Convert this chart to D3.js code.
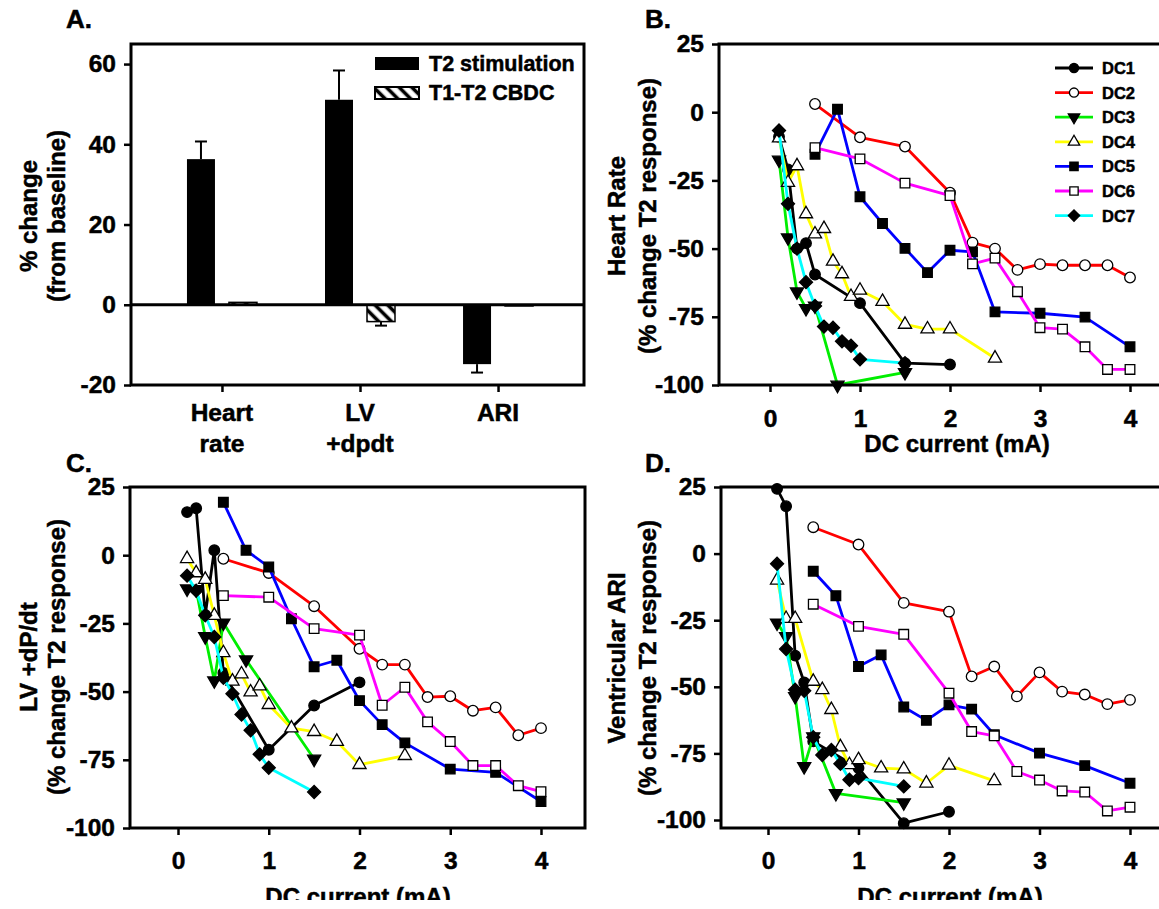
<!DOCTYPE html>
<html><head><meta charset="utf-8">
<script src="https://cdn.jsdelivr.net/npm/d3@7"></script>
<style>
body{margin:0;background:#fff}
svg{display:block}
text{font-family:"Liberation Sans",Arial,sans-serif;font-weight:bold;fill:#000;stroke:#000;stroke-width:0.5px}
</style>
</head><body>
<svg id="chart" width="1159" height="909"></svg>
<script>
// ---------------- DATA ----------------
// Panel A
const categoriesA = ["Heart rate", "LV +dpdt", "ARI"];
const categoryLinesA = [["Heart", "rate"], ["LV", "+dpdt"], ["ARI"]];
const seriesA = ["T2 stimulation", "T1-T2 CBDC"];
const t2Mean = [36.3, 51.1, -14.8];
const t2Err = [4.4, 7.3, 2.1];
const cbdcMean = [0.6, -4.2, -0.3];
const cbdcErr = [0, 1.0, 0];
const ticksA = [-20, 0, 20, 40, 60];

// Panels B-D
const seriesNames = ["DC1", "DC2", "DC3", "DC4", "DC5", "DC6", "DC7"];
const seriesColors = ["#000000", "#ff0000", "#00ee00", "#ffff00", "#0000ff", "#ff00ff", "#00ffff"];
const seriesSymbols = ["circle", "circleOpen", "triDown", "triUpOpen", "square", "squareOpen", "diamond"];
const currentTicks = [0, 1, 2, 3, 4];
const responseTicks = [-100, -75, -50, -25, 0, 25];

// B: Heart Rate (% change T2 response) vs DC current (mA)
const hrDC1 = [[0.1,-9],[0.2,-21],[0.3,-50],[0.4,-48],[0.5,-59.5],[1.0,-70],[1.5,-92],[2.0,-92.5]];
const hrDC2 = [[0.5,3],[1.0,-9.2],[1.5,-12.6],[2.0,-29.5],[2.25,-47.8],[2.5,-50],[2.75,-57.8],[3.0,-55.7],[3.25,-56.1],[3.5,-56.1],[3.75,-56.1],[4.0,-60.6]];
const hrDC3 = [[0.1,-17.5],[0.2,-46],[0.3,-65.8],[0.4,-71.9],[0.5,-71],[0.75,-100],[1.5,-95.4]];
const hrDC4 = [[0.1,-9.5],[0.2,-25.8],[0.3,-19.7],[0.4,-37.3],[0.5,-44.7],[0.6,-42.7],[0.7,-54.7],[0.8,-59.3],[0.9,-67.6],[1.0,-65.3],[1.25,-69.4],[1.5,-77.8],[1.75,-79.5],[2.0,-79.5],[2.5,-90.2]];
const hrDC5 = [[0.5,-15.4],[0.75,1.1],[1.0,-31],[1.25,-40.8],[1.5,-49.9],[1.75,-58.8],[2.0,-50.6],[2.25,-51.2],[2.5,-73.2],[3.0,-73.7],[3.5,-75.1],[4.0,-86]];
const hrDC6 = [[0.5,-13],[1.0,-17.1],[1.5,-26],[2.0,-30.6],[2.25,-55.6],[2.5,-53.5],[2.75,-65.8],[3.0,-79],[3.25,-79.5],[3.5,-86],[3.75,-94.3],[4.0,-94.3]];
const hrDC7 = [[0.1,-6.7],[0.2,-33.6],[0.3,-50],[0.4,-62.3],[0.5,-71],[0.6,-78.6],[0.7,-79],[0.8,-84],[0.9,-85.6],[1.0,-90.6],[1.5,-92]];

// C: LV +dP/dt
const lvDC1 = [[0.1,15.8],[0.2,17.2],[0.3,-21.9],[0.4,1.8],[0.5,-43.2],[1.0,-71.3],[1.5,-55.1],[2.0,-46.6]];
const lvDC2 = [[0.5,-1.3],[1.0,-6.5],[1.5,-18.7],[2.0,-34.3],[2.25,-40.1],[2.5,-40.1],[2.75,-52],[3.0,-51.7],[3.25,-57],[3.5,-55.8],[3.75,-66],[4.0,-63.4]];
const lvDC3 = [[0.1,-12.3],[0.2,-12.6],[0.3,-29.8],[0.4,-46],[0.5,-24.8],[0.75,-38.3],[1.5,-74.7]];
const lvDC4 = [[0.1,-1.3],[0.2,-6.5],[0.3,-8.9],[0.4,-22.1],[0.5,-35.8],[0.6,-46.2],[0.7,-43.6],[0.8,-50.2],[0.9,-48],[1.0,-54.8],[1.25,-63.4],[1.5,-64.7],[1.75,-68.3],[2.0,-76.8],[2.5,-73.5]];
const lvDC5 = [[0.5,19.4],[0.75,1.8],[1.0,-4.3],[1.25,-23.3],[1.5,-40.9],[1.75,-38.5],[2.0,-53.3],[2.25,-62.1],[2.5,-68.8],[3.0,-78.4],[3.5,-79.6],[4.0,-90.3]];
const lvDC6 = [[0.5,-14.8],[1.0,-15.4],[1.5,-26.9],[2.0,-29.3],[2.25,-55],[2.5,-48.4],[2.75,-61.1],[3.0,-68.3],[3.25,-77.1],[3.5,-77.1],[3.75,-84.5],[4.0,-86.7]];
const lvDC7 = [[0.1,-7.5],[0.2,-13],[0.3,-22],[0.4,-30],[0.5,-44.9],[0.6,-50.8],[0.7,-58.4],[0.8,-64.2],[0.9,-73],[1.0,-77.9],[1.5,-86.8]];

// D: Ventricular ARI
const ariDC1 = [[0.1,24.3],[0.2,17.8],[0.3,-38.3],[0.4,-48.4],[0.5,-70.5],[1.0,-80.5],[1.5,-101.2],[2.0,-96.9]];
const ariDC2 = [[0.5,9.9],[1.0,3.4],[1.5,-18.5],[2.0,-21.8],[2.25,-46.1],[2.5,-42.4],[2.75,-53.6],[3.0,-44.6],[3.25,-51.8],[3.5,-52.9],[3.75,-56.5],[4.0,-54.9]];
const ariDC3 = [[0.1,-26],[0.2,-31.1],[0.3,-53.6],[0.4,-79.9],[0.5,-68.7],[0.75,-90],[1.5,-93.5]];
const ariDC4 = [[0.1,-10],[0.2,-24.4],[0.3,-24.4],[0.5,-48],[0.6,-51.1],[0.7,-58.6],[0.8,-72.6],[0.9,-79.3],[1.0,-77.4],[1.25,-80.5],[1.5,-80.9],[1.75,-86.2],[2.0,-79.5],[2.5,-85.3]];
const ariDC5 = [[0.5,-6.6],[0.75,-15.8],[1.0,-42.4],[1.25,-38],[1.5,-57.6],[1.75,-62.6],[2.0,-56.8],[2.25,-58.4],[2.5,-68],[3.0,-74.9],[3.5,-79.6],[4.0,-86.2]];
const ariDC6 = [[0.5,-19],[1.0,-27.3],[1.5,-30.3],[2.0,-52.4],[2.25,-66.8],[2.5,-68.4],[2.75,-81.8],[3.0,-85],[3.25,-89.1],[3.5,-89.5],[3.75,-96.6],[4.0,-95.2]];
const ariDC7 = [[0.1,-3.8],[0.2,-35.8],[0.3,-51.1],[0.4,-51.5],[0.5,-68.9],[0.6,-75.6],[0.7,-73.7],[0.8,-78.9],[0.9,-84.9],[1.0,-84.3],[1.5,-87.4]];

const hrSeries = [hrDC1, hrDC2, hrDC3, hrDC4, hrDC5, hrDC6, hrDC7];
const lvSeries = [lvDC1, lvDC2, lvDC3, lvDC4, lvDC5, lvDC6, lvDC7];
const ariSeries = [ariDC1, ariDC2, ariDC3, ariDC4, ariDC5, ariDC6, ariDC7];

// ---------------- DRAWING ----------------
const svg = d3.select("#chart");
svg.append("rect").attr("width", 1159).attr("height", 909).attr("fill", "#fff");

const defs = svg.append("defs");
const pat = defs.append("pattern").attr("id", "hatch")
  .attr("patternUnits", "userSpaceOnUse").attr("width", 9).attr("height", 9)
  .attr("patternTransform", "rotate(-45)");
pat.append("rect").attr("width", 9).attr("height", 9).attr("fill", "#fff");
pat.append("line").attr("x1", 4.5).attr("y1", 0).attr("x2", 4.5).attr("y2", 9)
  .attr("stroke", "#000").attr("stroke-width", 3.6);

const TICK_FONT = 24.5;
const LW = 3;
const FONT = '"Liberation Sans", Arial, sans-serif';
const numFmt = d => (d < 0 ? "-" + Math.abs(d) : String(d));

function styleAxis(g) {
  g.select(".domain").remove();
  g.selectAll(".tick line").attr("stroke", "#000").attr("stroke-width", 2.5);
  g.selectAll(".tick text").attr("font-size", TICK_FONT)
    .attr("font-family", FONT).attr("font-weight", "bold").attr("fill", "#000")
    .attr("stroke", "#000").attr("stroke-width", 0.5);
}

function drawBox(g, l, t, r, b) {
  g.append("rect").attr("x", l).attr("y", t).attr("width", r - l).attr("height", b - t)
    .attr("fill", "none").attr("stroke", "#000").attr("stroke-width", LW);
}

function rotTitle(x, y, txt, size) {
  svg.append("text").attr("transform", `translate(${x},${y}) rotate(-90)`)
    .attr("text-anchor", "middle").attr("dominant-baseline", "central")
    .attr("font-size", size).text(txt);
}

function panelLetter(x, y, txt) {
  svg.append("text").attr("x", x).attr("y", y).attr("font-size", 26).text(txt);
}

function symbolPath(kind, scale) {
  const s = scale || 1;
  switch (kind) {
    case "circle": case "circleOpen": return d3.symbol(d3.symbolCircle, 88 * s)();
    case "triDown": case "triUpOpen": return d3.symbol(d3.symbolTriangle, 75 * s)();
    case "square": case "squareOpen": return d3.symbol(d3.symbolSquare, 92 * s)();
    case "diamond": return d3.symbol(d3.symbolSquare, 85 * s)();
  }
}
function symbolRot(kind) {
  if (kind === "triDown") return 180;
  if (kind === "diamond") return 45;
  return 0;
}
function symbolFill(kind) {
  return kind.endsWith("Open") ? "#fff" : "#000";
}

function drawMarker(g, kind, cx, cy, scale) {
  g.append("path").attr("d", symbolPath(kind, scale))
    .attr("transform", `translate(${cx},${cy}) rotate(${symbolRot(kind)})`)
    .attr("fill", symbolFill(kind)).attr("stroke", "#000").attr("stroke-width", 1.3);
}

// ---------- Panel A ----------
(function () {
  const L = 131, R = 584, T = 44, B = 385;
  const g = svg.append("g");
  const y = d3.scaleLinear().domain([-20, 65]).range([B, T]);
  const x = d3.scalePoint().domain(categoriesA).range([135, 585]).padding(0.63);
  const xs = d3.scaleBand().domain(seriesA).range([-35, 35]).paddingInner(1 / 3);

  categoriesA.forEach((c, i) => {
    const cx = x(c);
    const v = t2Mean[i];
    g.append("rect").attr("x", cx + xs(seriesA[0])).attr("width", xs.bandwidth())
      .attr("y", y(Math.max(0, v))).attr("height", Math.abs(y(v) - y(0)))
      .attr("fill", "#000");
    const bx = cx + xs(seriesA[0]) + xs.bandwidth() / 2;
    const ev = v + Math.sign(v) * t2Err[i];
    g.append("line").attr("x1", bx).attr("x2", bx).attr("y1", y(v)).attr("y2", y(ev)).attr("stroke", "#000").attr("stroke-width", 2);
    g.append("line").attr("x1", bx - 6).attr("x2", bx + 6).attr("y1", y(ev)).attr("y2", y(ev)).attr("stroke", "#000").attr("stroke-width", 2);
    const w = cbdcMean[i];
    g.append("rect").attr("x", cx + xs(seriesA[1])).attr("width", xs.bandwidth())
      .attr("y", y(Math.max(0, w))).attr("height", Math.abs(y(w) - y(0)))
      .attr("fill", "url(#hatch)").attr("stroke", "#000").attr("stroke-width", 1.5);
    if (cbdcErr[i] > 0) {
      const bx2 = cx + xs(seriesA[1]) + xs.bandwidth() / 2;
      const ew = w + Math.sign(w) * cbdcErr[i];
      g.append("line").attr("x1", bx2).attr("x2", bx2).attr("y1", y(w)).attr("y2", y(ew)).attr("stroke", "#000").attr("stroke-width", 2);
      g.append("line").attr("x1", bx2 - 6).attr("x2", bx2 + 6).attr("y1", y(ew)).attr("y2", y(ew)).attr("stroke", "#000").attr("stroke-width", 2);
    }
  });

  g.append("line").attr("x1", L).attr("x2", R).attr("y1", y(0)).attr("y2", y(0)).attr("stroke", "#000").attr("stroke-width", LW);

  drawBox(g, L, T, R, B);

  const ya = g.append("g").attr("transform", `translate(${L},0)`)
    .call(d3.axisLeft(y).tickValues(ticksA).tickSize(7).tickPadding(8).tickFormat(numFmt));
  styleAxis(ya);

  const xa = g.append("g").attr("transform", `translate(0,${B})`)
    .call(d3.axisBottom(x).tickSize(7).tickFormat(""));
  styleAxis(xa);

  categoriesA.forEach((c, i) => {
    categoryLinesA[i].forEach((ln, j) => {
      g.append("text").attr("x", x(c)).attr("y", 421 + j * 31).attr("text-anchor", "middle")
        .attr("font-size", TICK_FONT).text(ln);
    });
  });

  const lg = g.append("g");
  lg.append("rect").attr("x", 375).attr("y", 57).attr("width", 44).attr("height", 13).attr("fill", "#000");
  lg.append("text").attr("x", 429).attr("y", 64).attr("dominant-baseline", "central").attr("font-size", 21.5).text(seriesA[0]);
  lg.append("rect").attr("x", 375).attr("y", 87).attr("width", 44).attr("height", 12)
    .attr("fill", "url(#hatch)").attr("stroke", "#000").attr("stroke-width", 2);
  lg.append("text").attr("x", 429).attr("y", 93).attr("dominant-baseline", "central").attr("font-size", 21.5).text(seriesA[1]);

  rotTitle(28, 216, "% change", 24);
  rotTitle(56, 216, "(from baseline)", 24);
  panelLetter(66, 28, "A.");
})();

// ---------- Line panels ----------
function linePanel(opt) {
  const g = svg.append("g");
  const x = d3.scaleLinear().domain([0, 4]).range([opt.x0, opt.x4]);
  const y = d3.scaleLinear().domain([-100, 25]).range([opt.yM100, opt.y25]);
  const line = d3.line().x(d => x(d[0])).y(d => y(d[1]));

  opt.series.forEach((data, i) => {
    const sg = g.append("g");
    sg.append("path").attr("d", line(data)).attr("fill", "none")
      .attr("stroke", seriesColors[i]).attr("stroke-width", 2.8).attr("stroke-linejoin", "round");
    data.forEach(d => drawMarker(sg, seriesSymbols[i], x(d[0]), y(d[1])));
  });

  drawBox(g, opt.L, opt.T, opt.R, opt.B);

  const ya = g.append("g").attr("transform", `translate(${opt.L},0)`)
    .call(d3.axisLeft(y).tickValues(responseTicks).tickSize(7).tickPadding(8).tickFormat(numFmt));
  styleAxis(ya);

  const xa = g.append("g").attr("transform", `translate(0,${opt.B})`)
    .call(d3.axisBottom(x).tickValues(currentTicks).tickSize(7).tickPadding(opt.xPad).tickFormat(d3.format("d")));
  styleAxis(xa);

  g.append("text").attr("x", opt.titleX).attr("y", opt.titleY).attr("text-anchor", "middle")
    .attr("font-size", 24).text("DC current (mA)");

  rotTitle(opt.t1x, opt.ty, opt.title1, 24);
  rotTitle(opt.t2x, opt.ty, "(% change T2 response)", 24);
  panelLetter(opt.lx, opt.ly, opt.letter);

  if (opt.legend) {
    const lg = g.append("g");
    seriesNames.forEach((n, i) => {
      const yy = 68 + i * 24.6;
      lg.append("line").attr("x1", 1055).attr("x2", 1093).attr("y1", yy).attr("y2", yy)
        .attr("stroke", seriesColors[i]).attr("stroke-width", 2.8);
      drawMarker(lg, seriesSymbols[i], 1074, yy, 0.75);
      lg.append("text").attr("x", 1102).attr("y", yy).attr("dominant-baseline", "central")
        .attr("font-size", 16.5).text(n);
    });
  }
}

linePanel({ series: hrSeries, L: 719, R: 1162, T: 44, B: 385, x0: 770, x4: 1130, y25: 44, yM100: 385,
  xPad: 18, titleX: 957, titleY: 452, t1x: 616, t2x: 647, ty: 216, title1: "Heart Rate",
  lx: 645, ly: 28, letter: "B.", legend: true });

linePanel({ series: lvSeries, L: 130, R: 585, T: 487, B: 828, x0: 178, x4: 541, y25: 487, yM100: 828,
  xPad: 17, titleX: 358, titleY: 905, t1x: 28, t2x: 56, ty: 657, title1: "LV +dP/dt",
  lx: 66, ly: 472, letter: "C.", legend: false });

linePanel({ series: ariSeries, L: 721, R: 1162, T: 487, B: 828, x0: 768, x4: 1130, y25: 487, yM100: 820,
  xPad: 17, titleX: 950, titleY: 905, t1x: 616, t2x: 647, ty: 658, title1: "Ventricular ARI",
  lx: 645, ly: 472, letter: "D.", legend: false });

// the reference picture is cropped just below the bottom axis titles
svg.append("rect").attr("x", 0).attr("y", 900).attr("width", 1159).attr("height", 9).attr("fill", "#fff");
</script>
</body></html>
